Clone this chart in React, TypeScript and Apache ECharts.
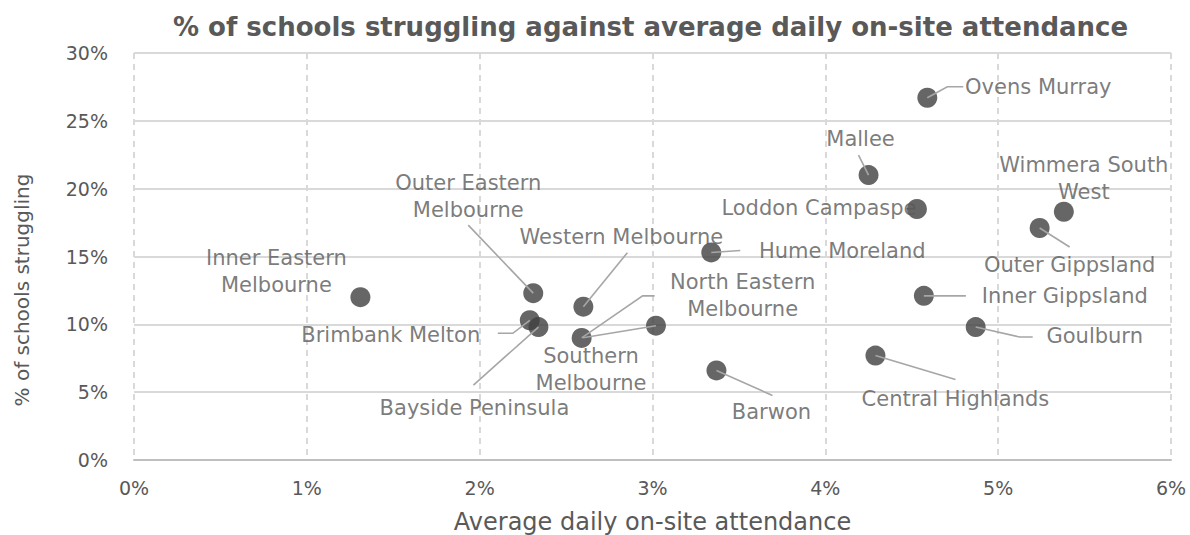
import React, { useEffect, useRef } from "react";
import * as echarts from "echarts";

const regions = [
  "Inner Eastern Melbourne",
  "Outer Eastern Melbourne",
  "Brimbank Melton",
  "Bayside Peninsula",
  "Western Melbourne",
  "North Eastern Melbourne",
  "Southern Melbourne",
  "Hume Moreland",
  "Barwon",
  "Mallee",
  "Loddon Campaspe",
  "Ovens Murray",
  "Inner Gippsland",
  "Central Highlands",
  "Goulburn",
  "Outer Gippsland",
  "Wimmera South West",
];

// Average daily on-site attendance (%)
const attendance = [1.31, 2.31, 2.29, 2.34, 2.6, 2.59, 3.02, 3.34, 3.37, 4.25, 4.53, 4.59, 4.57, 4.29, 4.87, 5.24, 5.38];
// % of schools struggling
const struggling = [12.0, 12.3, 10.3, 9.8, 11.3, 9.0, 9.9, 15.3, 6.6, 21.0, 18.5, 26.7, 12.1, 7.7, 9.8, 17.1, 18.3];

const labelText = [
  "Inner Eastern\nMelbourne",
  "Outer Eastern\nMelbourne",
  "Brimbank Melton",
  "Bayside Peninsula",
  "Western Melbourne",
  "North Eastern\nMelbourne",
  "Southern\nMelbourne",
  "Hume Moreland",
  "Barwon",
  "Mallee",
  "Loddon Campaspe",
  "Ovens Murray",
  "Inner Gippsland",
  "Central Highlands",
  "Goulburn",
  "Outer Gippsland",
  "Wimmera South\nWest",
];

const xTicks = [0, 1, 2, 3, 4, 5, 6];
const yTicks = [0, 5, 10, 15, 20, 25, 30];

// label placement: centre offset from the point (px)
const labelOffsets: [number, number][] = [
  [-84, -26],
  [-65, -97],
  [-139, 15],
  [-64, 81],
  [38, -70],
  [161, -42],
  [-65, 44],
  [131, -1],
  [55, 42],
  [-8, -36],
  [-98, -1],
  [111, -11],
  [141, 0],
  [80, 43],
  [119, 9],
  [30, 37],
  [20, -33],
];
// leader lines: optional elbow and end, as offsets from the point (px)
const leaderElbow: ([number, number] | null)[] = [
  null, null, [-17, 13], null, null, [61, -42], null, null, null,
  null, null, [20, -11], null, null, [44, 10], null, null,
];
const leaderEnd: ([number, number] | null)[] = [
  null, [-65, -68], [-32, 13], [-65, 58], [44, -54], [73, -42], [-73, 12], [29, -2], [56, 25],
  [-10, -20], null, [36, -11], [42, 0], [80, 24], [57, 10], [30, 19], null,
];

const TEXT = "#595959";
const FONT = "DejaVu Sans";

export default function App() {
  const ref = useRef<HTMLDivElement>(null);
  useEffect(() => {
    const chart = echarts.init(ref.current!, null, { renderer: "svg" });
    const points = regions.map((name, i) => [attendance[i], struggling[i], i]);
    const data = regions.map((name, i) => ({
      name,
      value: [attendance[i], struggling[i]],
      label: { formatter: labelText[i] },
    }));
    chart.setOption({
      animation: false,
      backgroundColor: "#ffffff",
      title: {
        text: "% of schools struggling against average daily on-site attendance",
        left: 168,
        top: 9,
        textStyle: { fontFamily: "DejaVu Sans", fontWeight: "bold", fontSize: 26, color: TEXT },
      },
      graphic: [
        {
          type: "text",
          x: 22,
          y: 290,
          rotation: Math.PI / 2,
          style: {
            text: "% of schools struggling",
            fontFamily: FONT,
            fontSize: 20,
            fill: TEXT,
            align: "center",
            verticalAlign: "middle",
          },
        },
      ],
      grid: { left: 134, right: 19, top: 53, bottom: 75, containLabel: false, outerBoundsMode: "none" },
      xAxis: {
        type: "value",
        min: xTicks[0],
        max: xTicks[xTicks.length - 1],
        interval: 1,
        name: "Average daily on-site attendance",
        nameLocation: "middle",
        nameGap: 50,
        nameTextStyle: { fontFamily: FONT, fontSize: 24, color: TEXT },
        axisLine: { show: true, onZero: false, lineStyle: { color: "#bfbfbf", width: 2 } },
        axisTick: { show: false },
        axisLabel: { formatter: "{value}%", fontFamily: FONT, fontSize: 19, color: TEXT, margin: 18 },
        splitLine: { show: true, lineStyle: { color: "#d9d9d9", width: 2, type: [6, 5] } },
      },
      yAxis: {
        type: "value",
        min: yTicks[0],
        max: yTicks[yTicks.length - 1],
        interval: 5,
        axisLine: { show: false },
        axisTick: { show: false },
        axisLabel: { formatter: "{value}%", fontFamily: FONT, fontSize: 19, color: TEXT, margin: 26 },
        splitLine: { show: true, lineStyle: { color: "#d9d9d9", width: 2, type: "solid" } },
      },
      series: [
        {
          type: "scatter",
          symbol: "circle",
          symbolSize: 20,
          z: 2,
          itemStyle: { color: "#404040" },
          label: {
            show: true,
            position: "inside",
            fontFamily: FONT,
            fontSize: 21,
            lineHeight: 27,
            color: TEXT,
            align: "center",
          },
          labelLayout: (params: any) => ({
            dx: labelOffsets[params.dataIndex][0],
            dy: labelOffsets[params.dataIndex][1],
          }),
          data,
        },
        {
          type: "custom",
          z: 3,
          silent: true,
          data: points,
          renderItem: (params: any, api: any) => {
            const i = api.value(2);
            const end = leaderEnd[i];
            if (!end) return null;
            const c = api.coord([api.value(0), api.value(1)]);
            const elbow = leaderElbow[i];
            const pts = [c];
            if (elbow) pts.push([c[0] + elbow[0], c[1] + elbow[1]]);
            pts.push([c[0] + end[0], c[1] + end[1]]);
            return {
              type: "polyline",
              shape: { points: pts },
              style: { stroke: "#a6a6a6", lineWidth: 1.6, fill: null },
            };
          },
        },
      ],
    });
    return () => chart.dispose();
  }, []);
  return (
    <div
      ref={ref}
      style={{ position: "fixed", left: 0, top: 0, width: 1190, height: 535 }}
    />
  );
}
